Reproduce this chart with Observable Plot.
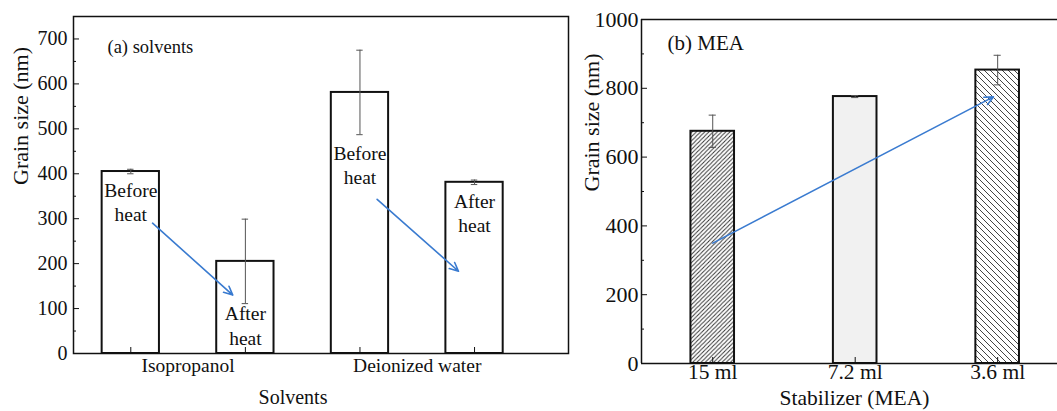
<!DOCTYPE html>
<html><head><meta charset="utf-8">
<script src="https://cdn.jsdelivr.net/npm/d3@7"></script>
<script src="https://cdn.jsdelivr.net/npm/@observablehq/plot@0.6"></script>
<style>
body{margin:0;background:#fff;}
#wrap{position:relative;width:1057px;height:411px;overflow:hidden;background:#fff;}
#a{position:absolute;left:0;top:0;width:572px;}
#b{position:absolute;left:572px;top:0;width:485px;}
svg text{font-family:'Liberation Serif','Times New Roman',serif;}
</style></head><body>
<svg width="0" height="0" style="position:absolute">
  <defs>
    <pattern id="hatchDense" patternUnits="userSpaceOnUse" width="4.2" height="4.2">
      <rect width="4.2" height="4.2" fill="#fff"/>
      <path d="M-1,1 L1,-1 M0,4.2 L4.2,0 M3.2,5.2 L5.2,3.2" stroke="#333" stroke-width="1"/>
    </pattern>
    <pattern id="hatchSparse" patternUnits="userSpaceOnUse" width="6" height="6">
      <rect width="6" height="6" fill="#fff"/>
      <path d="M-1,5 L1,7 M0,0 L6,6 M5,-1 L7,1" stroke="#444" stroke-width="1"/>
    </pattern>
  </defs>
</svg>
<div id="wrap"><div id="a"></div><div id="b"></div></div>
<script>
// ---------- data: panel (a) solvents ----------
const solventCategories = ["Isopropanol", "Deionized water"];
const solventBarLabels = ["Before\nheat", "After\nheat", "Before\nheat", "After\nheat"];
const solventGrainSize = [405, 205, 581, 381];
const solventError = [5, 94, 94, 5];
const solventLabelY = [339, 64, 421, 315];
const solventArrowX1 = [1.19, 3.15];
const solventArrowY1 = [290, 343];
const solventArrowX2 = [1.89, 3.86];
const solventArrowY2 = [130, 183];
const solventTicks = [0, 100, 200, 300, 400, 500, 600, 700];
const solventMinorTicks = [50, 150, 250, 350, 450, 550, 650];

// ---------- data: panel (b) MEA ----------
const meaCategories = ["15 ml", "7.2 ml", "3.6 ml"];
const meaGrainSize = [675, 776, 853];
const meaError = [47, 3, 43];
const meaArrowX1 = [1.0];
const meaArrowY1 = [350];
const meaArrowX2 = [2.97];
const meaArrowY2 = [775];
const meaTicks = [0, 200, 400, 600, 800, 1000];
const meaMinorTicks = [100, 300, 500, 700, 900];

// ---------- styling ----------
const FONT = "'Liberation Serif', 'Times New Roman', serif";
const INK = "#111";
const ERR = "#555";
const ARROW = "#3a7bd0";
const meaFills = ["url(#hatchDense)", "#f1f1f1", "url(#hatchSparse)"];
const fmt = d => String(d);

// ---------- panel (a) ----------
const barsA = solventGrainSize.map((v, i) => ({
  pos: i + 1, v, err: solventError[i], label: solventBarLabels[i], ly: solventLabelY[i]
}));
const arrowsA = solventArrowX1.map((x1, i) => ({x1, y1: solventArrowY1[i], x2: solventArrowX2[i], y2: solventArrowY2[i]}));
const catPosA = new Map(solventCategories.map((c, g) => [2 * g + 1.5, c]));
const xDomA = [0.5, 4.82];

const plotA = Plot.plot({
  width: 572, height: 411,
  marginLeft: 73, marginRight: 4, marginTop: 16, marginBottom: 58,
  style: {fontFamily: FONT, fontSize: "20px", background: "transparent", color: INK},
  x: {type: "linear", domain: xDomA},
  y: {domain: [0, 750]},
  marks: [
    Plot.rect(barsA, {x1: d => d.pos - 0.25, x2: d => d.pos + 0.25, y1: 0, y2: "v", fill: "white", stroke: INK, strokeWidth: 2}),
    Plot.ruleX(barsA, {x: "pos", y1: d => d.v - d.err, y2: d => d.v + d.err, stroke: ERR, strokeWidth: 1}),
    Plot.ruleY(barsA, {x1: d => d.pos - 0.028, x2: d => d.pos + 0.028, y: d => d.v + d.err, stroke: ERR, strokeWidth: 1}),
    Plot.ruleY(barsA, {x1: d => d.pos - 0.028, x2: d => d.pos + 0.028, y: d => d.v - d.err, stroke: ERR, strokeWidth: 1}),
    Plot.text(barsA, {x: "pos", y: "ly", text: "label", lineHeight: 1.25, fontSize: 19.5, fontFamily: FONT, fill: INK}),
    Plot.arrow(arrowsA, {x1: "x1", y1: "y1", x2: "x2", y2: "y2", stroke: ARROW, strokeWidth: 1.6, headLength: 9, headAngle: 50}),
    Plot.frame({stroke: INK, strokeWidth: 1.5}),
    Plot.axisY({ticks: solventTicks, tickFormat: fmt, tickSize: 0, tickPadding: 6, fontFamily: FONT, fontSize: 20, label: null}),
    Plot.axisY({ticks: solventTicks, tickSize: 6, dx: 6, fill: "none", label: null}),
    Plot.axisY({ticks: solventMinorTicks, tickSize: 3, dx: 3, fill: "none", label: null}),
    Plot.axisX({ticks: barsA.map(d => d.pos), tickSize: 6, dy: -6, fill: "none", label: null}),
    Plot.axisX({ticks: [...catPosA.keys()], tickFormat: d => catPosA.get(d), tickSize: 0, tickPadding: 5, fontFamily: FONT, fontSize: 19.5, label: null}),
    Plot.text(["Grain size (nm)"], {frameAnchor: "left", rotate: -90, dx: -53, lineAnchor: "middle", fontSize: 22, fontFamily: FONT, fill: INK}),
    Plot.text(["Solvents"], {frameAnchor: "bottom", dx: -28, dy: 44, lineAnchor: "middle", fontSize: 20, fontFamily: FONT, fill: INK}),
    Plot.text(["(a) solvents"], {frameAnchor: "top-left", dx: 34, dy: 31, textAnchor: "start", lineAnchor: "middle", fontSize: 18.5, fontFamily: FONT, fill: INK})
  ]
});
document.getElementById("a").appendChild(plotA);

// ---------- panel (b) ----------
const barsB = meaGrainSize.map((v, i) => ({pos: i + 1, v, err: meaError[i], fill: meaFills[i]}));
const arrowsB = meaArrowX1.map((x1, i) => ({x1, y1: meaArrowY1[i], x2: meaArrowX2[i], y2: meaArrowY2[i]}));
const xDomB = [0.5, 3.42];
const yDomB = [0, 1000];

const plotB = Plot.plot({
  width: 485, height: 411,
  marginLeft: 69, marginRight: 0, marginTop: 19, marginBottom: 48,
  style: {fontFamily: FONT, fontSize: "22px", background: "transparent", color: INK},
  x: {type: "linear", domain: xDomB},
  y: {domain: yDomB},
  color: {type: "identity"},
  marks: [
    Plot.rect(barsB, {x1: d => d.pos - 0.153, x2: d => d.pos + 0.153, y1: 0, y2: "v", fill: "fill", stroke: INK, strokeWidth: 2}),
    Plot.ruleX(barsB, {x: "pos", y1: d => d.v - d.err, y2: d => d.v + d.err, stroke: ERR, strokeWidth: 1}),
    Plot.ruleY(barsB, {x1: d => d.pos - 0.025, x2: d => d.pos + 0.025, y: d => d.v + d.err, stroke: ERR, strokeWidth: 1}),
    Plot.ruleY(barsB, {x1: d => d.pos - 0.025, x2: d => d.pos + 0.025, y: d => d.v - d.err, stroke: ERR, strokeWidth: 1}),
    Plot.arrow(arrowsB, {x1: "x1", y1: "y1", x2: "x2", y2: "y2", stroke: ARROW, strokeWidth: 1.6, headLength: 9, headAngle: 50}),
    Plot.ruleX([xDomB[0]], {stroke: INK, strokeWidth: 1.5}),
    Plot.ruleY(yDomB, {stroke: INK, strokeWidth: 1.5}),
    Plot.axisY({ticks: meaTicks, tickFormat: fmt, tickSize: 0, tickPadding: 3, fontFamily: FONT, fontSize: 22, label: null}),
    Plot.axisY({ticks: meaTicks, tickSize: 6, dx: 6, fill: "none", label: null}),
    Plot.axisY({ticks: meaMinorTicks, tickSize: 3, dx: 3, fill: "none", label: null}),
    Plot.axisX({ticks: barsB.map(d => d.pos), tickSize: 6, dy: -6, fill: "none", label: null}),
    Plot.axisX({ticks: barsB.map(d => d.pos), tickFormat: d => meaCategories[d - 1], tickSize: 0, tickPadding: 0, fontFamily: FONT, fontSize: 21.5, label: null}),
    Plot.text(["Grain size (nm)"], {frameAnchor: "left", rotate: -90, dx: -50, lineAnchor: "middle", fontSize: 22, fontFamily: FONT, fill: INK}),
    Plot.text(["Stabilizer (MEA)"], {frameAnchor: "bottom", dx: 5, dy: 35, lineAnchor: "middle", fontSize: 21.5, fontFamily: FONT, fill: INK}),
    Plot.text(["(b) MEA"], {frameAnchor: "top-left", dx: 26, dy: 24, textAnchor: "start", lineAnchor: "middle", fontSize: 21, fontFamily: FONT, fill: INK})
  ]
});
document.getElementById("b").appendChild(plotB);
</script>
</body></html>
